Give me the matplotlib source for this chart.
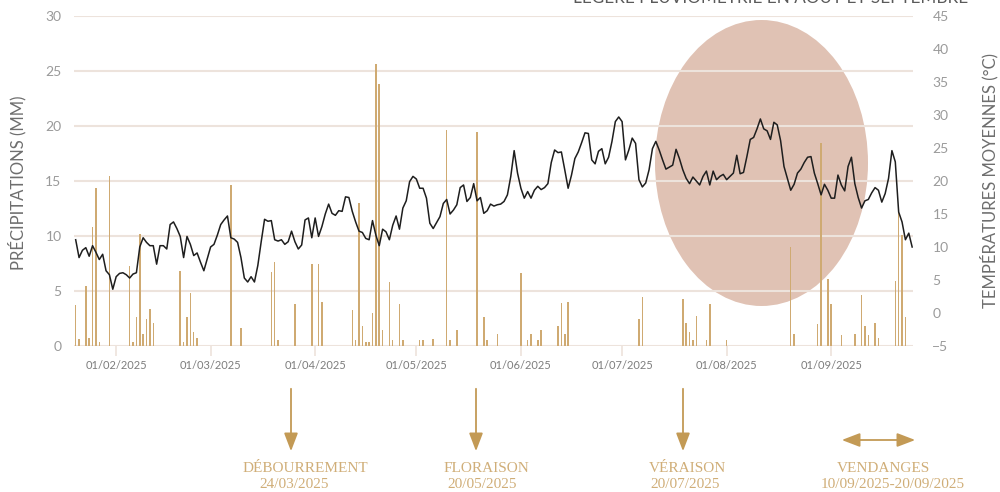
import matplotlib
matplotlib.use("Agg")
import matplotlib.pyplot as plt
import matplotlib.dates as mdates
from matplotlib.patches import Ellipse, FancyArrowPatch
import numpy as np
import pandas as pd

# ---------------- data ----------------
temp_start = "2025-01-20"
temperature = [
    11.1, 8.4, 9.5, 9.9, 8.6, 10.2, 9.2, 8.1, 8.9, 6.4, 5.8, 3.6, 5.5, 6.0, 6.1, 5.8,
    5.3, 5.9, 6.1, 10.0, 11.4, 10.7, 10.2, 10.2, 7.4, 10.2, 10.2, 9.7, 13.4, 13.8, 12.8,
    11.6, 8.4, 11.6, 10.4, 8.7, 9.1, 7.7, 6.4, 8.2, 10.0, 10.4, 11.8, 13.4, 14.1, 14.7,
    11.4, 11.2, 10.7, 8.4, 5.3, 4.7, 5.5, 4.7, 7.2, 10.8, 14.2, 13.9, 14.0, 11.1, 10.9,
    11.1, 10.4,
    10.8, 12.4, 10.8, 9.7, 10.3, 14.1, 14.4, 11.4, 14.4, 11.6, 13.1, 15.0, 16.5, 15.1,
    14.8, 15.5, 15.4, 17.6, 17.5, 15.4, 13.8, 12.4, 12.2, 11.3, 11.1, 14.0, 11.8, 10.2,
    12.7, 12.3, 11.1, 13.3, 14.7, 12.7, 15.9, 17.0, 19.9, 20.7, 20.3, 18.9, 18.9, 17.4,
    13.6, 12.8, 13.7, 14.6, 16.6, 17.2, 15.0, 15.6, 16.4, 19.0, 19.4, 16.9, 17.5, 19.6,
    17.0, 17.5, 15.1, 15.5, 16.5, 16.2,
    16.4, 16.5, 16.9, 17.9, 20.7, 24.6, 21.2, 18.9, 17.4, 18.4, 17.4, 18.6, 19.2, 18.7,
    19.0, 19.6, 22.8, 24.7, 24.3, 24.4, 21.7, 18.9, 20.9, 23.4, 24.4, 25.8, 27.3, 27.2,
    23.2, 22.6, 24.5, 24.9, 22.6, 23.6, 26.0, 29.0, 29.7, 29.0, 23.2, 24.7, 26.5, 25.7,
    20.2, 19.1, 19.7, 21.7, 24.9, 26.0, 24.7, 23.2, 21.8, 22.1, 22.4, 24.8, 23.4, 21.7,
    20.4, 19.6, 20.6, 20.0, 19.4, 20.7,
    21.5, 19.4, 21.5, 20.2, 20.7, 21.0, 20.2, 20.7, 21.2, 23.9, 21.1, 21.3, 23.7, 26.3,
    26.6, 27.9, 29.4, 27.9, 27.6, 26.3, 28.9, 28.5, 26.1, 22.2, 20.4, 18.6, 19.5, 21.2,
    21.8, 22.8, 23.6, 23.7, 21.2, 19.6, 17.9, 19.5, 18.6, 17.4, 17.4, 20.9, 19.4, 18.5,
    22.2, 23.6, 19.6, 17.5, 15.9, 17.0, 17.2, 18.2, 19.0, 18.6, 16.8, 18.1, 20.4, 24.6,
    22.9, 15.3, 13.8, 11.1, 12.1, 10.0,
]

rain_dates = [
    "01-20", "01-21", "01-23", "01-24", "01-25", "01-26", "01-27", "01-30",
    "02-05", "02-06", "02-07", "02-08", "02-09", "02-10", "02-11", "02-12",
    "02-20", "02-21", "02-22", "02-23", "02-24", "02-25",
    "03-07", "03-10", "03-19", "03-20", "03-21", "03-26", "03-31",
    "04-02", "04-03", "04-12", "04-13", "04-14", "04-15", "04-16", "04-17", "04-18",
    "04-19", "04-20", "04-21", "04-23", "04-24", "04-26", "04-27",
    "05-02", "05-03", "05-06", "05-10", "05-11", "05-13", "05-19", "05-21", "05-22", "05-25",
    "06-01", "06-03", "06-04", "06-06", "06-07", "06-12", "06-13", "06-14", "06-15",
    "07-06", "07-07", "07-19", "07-20", "07-21", "07-22", "07-23", "07-26", "07-27",
    "08-01", "08-20", "08-21", "08-28", "08-29", "08-31",
    "09-01", "09-04", "09-08", "09-10", "09-11", "09-12", "09-14", "09-15",
    "09-20", "09-21", "09-22", "09-23",
]
rain_mm = [
    3.7, 0.6, 5.5, 0.75, 10.8, 14.4, 0.4, 15.5,
    7.3, 0.4, 2.6, 10.2, 1.05, 2.45, 3.4, 2.05,
    6.8, 0.4, 2.6, 4.8, 1.3, 0.75,
    14.6, 1.6, 6.7, 7.6, 0.55, 3.8, 7.5,
    7.5, 4.0, 3.3, 0.55, 13.0, 1.8, 0.4, 0.4, 3.0,
    25.6, 23.8, 1.5, 5.85, 0.55, 3.8, 0.55,
    0.55, 0.55, 0.65, 19.6, 0.55, 1.5, 19.5, 2.6, 0.55, 1.05,
    6.6, 0.55, 1.05, 0.55, 1.5, 1.8, 3.9, 1.05, 4.0,
    2.45, 4.5, 4.3, 2.05, 1.3, 0.55, 2.75, 0.55, 3.8,
    0.55, 9.0, 1.05, 2.0, 18.5, 6.05, 3.8,
    1.0, 1.05, 4.6, 1.8, 1.0, 2.05, 0.75,
    5.9, 12.2, 10.1, 2.6,
]

stages = ["DÉBOURREMENT", "FLORAISON", "VÉRAISON", "VENDANGES"]
stage_dates = ["24/03/2025", "20/05/2025", "20/07/2025", "10/09/2025-20/09/2025"]

title = "LÉGÈRE PLUVIOMÉTRIE EN AOÛT ET SEPTEMBRE"
ylabel_left = "PRÉCIPITATIONS (MM)"
ylabel_right = "TEMPÉRATURES MOYENNES (°C)"

# ---------------- styles ----------------
SANS = ["Lato", "DejaVu Sans"]
SERIF = ["Liberation Serif", "DejaVu Serif"]
GRID = "#ede3dc"
BAR = "#cfaa72"
GOLD_TXT = "#d0ae78"
GOLD_ARR = "#c39a55"
TICK_TXT = "#9a9a9a"

dates_t = pd.date_range(temp_start, periods=len(temperature), freq="D")
dates_r = pd.to_datetime(["2025-" + d for d in rain_dates])

fig = plt.figure(figsize=(10, 4.92), dpi=100)
ax = fig.add_axes([0.074, 1 - 346 / 492, 0.839, 330 / 492])

# background ellipse (under gridlines)
ell = Ellipse((0.7615, 1 - 163 / 492), 0.213, 286 / 492, transform=fig.transFigure,
              facecolor="#e0c2b4", edgecolor="none", zorder=0.1)
ax.add_patch(ell)

ax.bar(dates_r, rain_mm, width=0.45, color=BAR, zorder=2, linewidth=0)
ax.set_ylim(0, 30)
ax.set_yticks(np.arange(0, 31, 5))
ax.set_xlim(dates_t[0] - pd.Timedelta(hours=12), dates_t[-1] + pd.Timedelta(hours=6))
ax.set_axisbelow(True)
ax.grid(axis="y", color=GRID, linewidth=1.5, zorder=0.5)
ax.grid(axis="x", visible=False)
for s in ax.spines.values():
    s.set_visible(False)

ax.xaxis.set_major_locator(mdates.MonthLocator(bymonth=range(2, 10), bymonthday=1))
ax.xaxis.set_major_formatter(mdates.DateFormatter("%d/%m/%Y"))
ax.tick_params(axis="x", length=7, width=1.2, color=GRID, labelsize=8,
               labelcolor="#7d7d7d", pad=3)
ax.tick_params(axis="y", length=0, labelsize=10, labelcolor=TICK_TXT, pad=9)
for lab in ax.get_xticklabels() + ax.get_yticklabels():
    lab.set_family(SANS)

ax2 = ax.twinx()
ax2.plot(dates_t, temperature, color="#1e1e1e", linewidth=1.1, zorder=3)
ax2.set_ylim(-5, 45)
ax2.set_yticks(np.arange(-5, 46, 5))
for s in ax2.spines.values():
    s.set_visible(False)
ax2.tick_params(axis="y", length=0, labelsize=10, labelcolor=TICK_TXT, pad=14)
for lab in ax2.get_yticklabels():
    lab.set_family(SANS)

fig.text(0.017, 1 - 183 / 492, ylabel_left, rotation=90, ha="center", va="center",
         fontsize=12, color="#6e6e6e", family=SANS)
fig.text(0.989, 1 - 181 / 492, ylabel_right, rotation=90, ha="center", va="center",
         fontsize=12, color="#6e6e6e", family=SANS)
fig.text(0.968, 1 - 3 / 492, title, ha="right", va="baseline", fontsize=12.3,
         color="#5a5a5a", family=SANS)

# phenology annotations (figure pixel coordinates)
def fx(px):
    return px / 1000.0

def fy(py):
    return 1 - py / 492.0

arrow_x = [291, 476, 683]
label_x = [(305, 294), (486, 482), (687, 685), (883, 893)]
for xp in arrow_x:
    fig.patches.append(FancyArrowPatch((fx(xp), fy(386)), (fx(xp), fy(454)),
                                       transform=fig.transFigure,
                                       arrowstyle="-|>,head_length=1.1,head_width=0.42",
                                       mutation_scale=10, color=GOLD_ARR, linewidth=1.3))
fig.patches.append(FancyArrowPatch((fx(839), fy(440)), (fx(918), fy(440)),
                                   transform=fig.transFigure,
                                   arrowstyle="<|-|>,head_length=1.1,head_width=0.42",
                                   mutation_scale=10, color=GOLD_ARR, linewidth=1.3))
for (x1, x2), name, d in zip(label_x, stages, stage_dates):
    fig.text(fx(x1), fy(469), name, ha="center", va="center", fontsize=11,
             color=GOLD_TXT, family=SERIF)
    fig.text(fx(x2), fy(485), d, ha="center", va="center", fontsize=11,
             color=GOLD_TXT, family=SERIF)

fig.savefig("out.png", dpi=100)
